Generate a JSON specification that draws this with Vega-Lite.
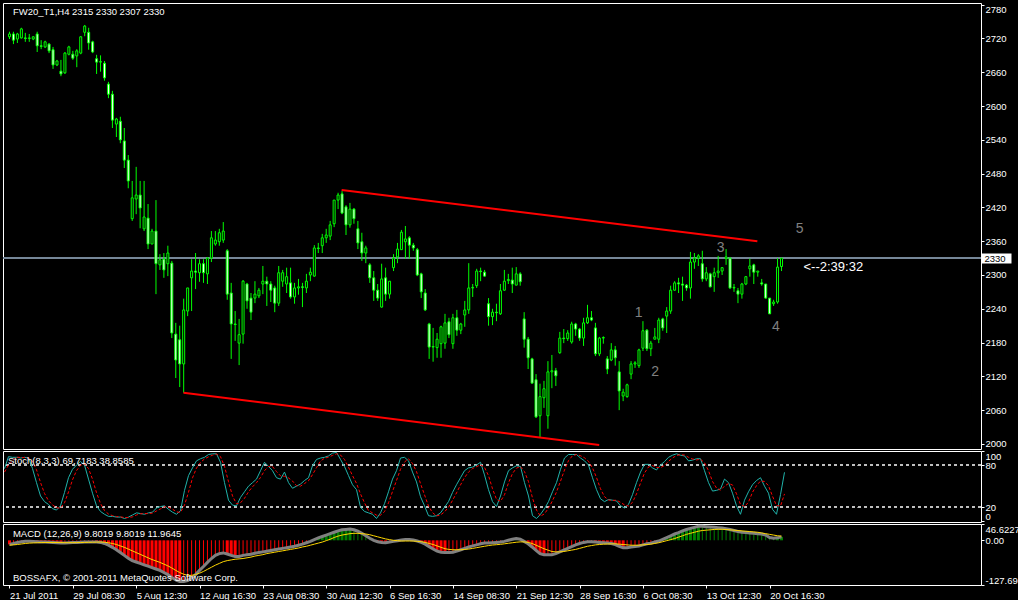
{
"$schema":"https://vega.github.io/schema/vega-lite/v6.json",
"background":"#000000",
"padding":{"left":2,"top":2,"right":0,"bottom":0},
"spacing":2,
"bounds":"flush",
"config":{"view":{"stroke":"#ffffff","strokeWidth":1,"fill":"#000000"},"font":"Liberation Sans","axis":{"labelFont":"Liberation Sans","labelFontSize":9.5,"labelColor":"#ffffff","tickColor":"#ffffff","domain":false,"grid":false,"labelOverlap":false,"labelFlush":false,"labelBound":false}},
"datasets":{
"bars":[
{"i":0,"o":2723,"h":2732,"l":2719,"c":2728,"k":75,"d":70,"m":-11.6,"s":-14},
{"i":1,"o":2728,"h":2732,"l":2710,"c":2717,"k":92,"d":80,"m":-9,"s":-13},
{"i":2,"o":2719,"h":2730,"l":2712,"c":2728,"k":91,"d":86,"m":-6,"s":-12},
{"i":3,"o":2721,"h":2739,"l":2720,"c":2737,"k":91,"d":91.3,"m":-4,"s":-10.5},
{"i":4,"o":2721,"h":2730,"l":2714,"c":2720,"k":90,"d":90.7,"m":-3,"s":-9},
{"i":5,"o":2720,"h":2728,"l":2714,"c":2721,"k":91,"d":90.7,"m":-3,"s":-8},
{"i":6,"o":2719,"h":2724,"l":2717,"c":2723,"k":90,"d":90.3,"m":-3.5,"s":-7.5},
{"i":7,"o":2728,"h":2732,"l":2696,"c":2707,"k":75,"d":85.3,"m":-4,"s":-7},
{"i":8,"o":2707,"h":2717,"l":2701,"c":2706,"k":55,"d":73.3,"m":-4.5,"s":-6.5},
{"i":9,"o":2705,"h":2716,"l":2703,"c":2714,"k":36,"d":55.3,"m":-5,"s":-6.3},
{"i":10,"o":2710,"h":2712,"l":2694,"c":2698,"k":28,"d":39.7,"m":-5.5,"s":-6.2},
{"i":11,"o":2700,"h":2705,"l":2666,"c":2673,"k":24,"d":29.3,"m":-6,"s":-6.2},
{"i":12,"o":2673,"h":2682,"l":2671,"c":2680,"k":18,"d":23.3,"m":-7,"s":-6.3},
{"i":13,"o":2662,"h":2682,"l":2653,"c":2657,"k":16,"d":19.3,"m":-8,"s":-6.5},
{"i":14,"o":2659,"h":2696,"l":2657,"c":2694,"k":22,"d":18.7,"m":-8,"s":-6.7},
{"i":15,"o":2692,"h":2707,"l":2690,"c":2705,"k":41,"d":26.3,"m":-7,"s":-6.8},
{"i":16,"o":2692,"h":2698,"l":2682,"c":2685,"k":62,"d":41.7,"m":-6.5,"s":-6.7},
{"i":17,"o":2689,"h":2701,"l":2669,"c":2698,"k":74,"d":59,"m":-6,"s":-6.5},
{"i":18,"o":2694,"h":2724,"l":2692,"c":2723,"k":80,"d":72,"m":-5.5,"s":-6.3},
{"i":19,"o":2731,"h":2744,"l":2724,"c":2742,"k":85,"d":79.7,"m":-5,"s":-6},
{"i":20,"o":2731,"h":2739,"l":2700,"c":2712,"k":80,"d":81.7,"m":-4.5,"s":-5.7},
{"i":21,"o":2714,"h":2716,"l":2694,"c":2696,"k":60,"d":75,"m":-4.5,"s":-5.4},
{"i":22,"o":2684,"h":2691,"l":2657,"c":2678,"k":40,"d":60,"m":-5,"s":-5.2},
{"i":23,"o":2678,"h":2690,"l":2661,"c":2679,"k":22,"d":40.7,"m":-6,"s":-5},
{"i":24,"o":2676,"h":2680,"l":2645,"c":2650,"k":14,"d":25.3,"m":-9,"s":-5.5},
{"i":25,"o":2639,"h":2643,"l":2614,"c":2621,"k":10,"d":15.3,"m":-14,"s":-7},
{"i":26,"o":2621,"h":2627,"l":2561,"c":2575,"k":7,"d":10.3,"m":-20,"s":-9},
{"i":27,"o":2568,"h":2579,"l":2545,"c":2577,"k":7,"d":8,"m":-27,"s":-12},
{"i":28,"o":2573,"h":2581,"l":2534,"c":2540,"k":6,"d":6.7,"m":-35,"s":-16},
{"i":29,"o":2538,"h":2561,"l":2490,"c":2504,"k":6,"d":6.3,"m":-43,"s":-20},
{"i":30,"o":2504,"h":2513,"l":2454,"c":2467,"k":4,"d":5.3,"m":-51,"s":-25},
{"i":31,"o":2400,"h":2467,"l":2396,"c":2437,"k":6,"d":5.3,"m":-58,"s":-30},
{"i":32,"o":2435,"h":2492,"l":2408,"c":2442,"k":9,"d":6.3,"m":-62,"s":-35},
{"i":33,"o":2442,"h":2467,"l":2383,"c":2419,"k":12,"d":9,"m":-66,"s":-40},
{"i":34,"o":2382,"h":2467,"l":2378,"c":2403,"k":11,"d":10.7,"m":-70,"s":-45},
{"i":35,"o":2401,"h":2426,"l":2346,"c":2355,"k":10,"d":11,"m":-74,"s":-50},
{"i":36,"o":2355,"h":2382,"l":2355,"c":2378,"k":12,"d":11,"m":-78,"s":-55},
{"i":37,"o":2378,"h":2433,"l":2266,"c":2320,"k":13,"d":11.7,"m":-82,"s":-59},
{"i":38,"o":2318,"h":2337,"l":2309,"c":2327,"k":19,"d":14.7,"m":-86,"s":-63},
{"i":39,"o":2328,"h":2339,"l":2295,"c":2309,"k":21,"d":17.7,"m":-92,"s":-68},
{"i":40,"o":2320,"h":2352,"l":2298,"c":2339,"k":22,"d":20.7,"m":-98,"s":-73},
{"i":41,"o":2321,"h":2325,"l":2188,"c":2197,"k":17,"d":20,"m":-106,"s":-79},
{"i":42,"o":2195,"h":2215,"l":2117,"c":2149,"k":13,"d":17.3,"m":-113,"s":-86},
{"i":43,"o":2185,"h":2210,"l":2101,"c":2142,"k":10,"d":13.3,"m":-118,"s":-92},
{"i":44,"o":2142,"h":2258,"l":2091,"c":2238,"k":15,"d":12.7,"m":-118,"s":-97},
{"i":45,"o":2236,"h":2277,"l":2227,"c":2277,"k":44,"d":23,"m":-115,"s":-100},
{"i":46,"o":2295,"h":2328,"l":2236,"c":2307,"k":65,"d":41.3,"m":-108,"s":-100},
{"i":47,"o":2307,"h":2339,"l":2275,"c":2305,"k":76,"d":61.7,"m":-98,"s":-98},
{"i":48,"o":2304,"h":2328,"l":2288,"c":2320,"k":86,"d":75.7,"m":-86,"s":-94},
{"i":49,"o":2320,"h":2328,"l":2286,"c":2304,"k":89,"d":83.7,"m":-75,"s":-89},
{"i":50,"o":2302,"h":2332,"l":2284,"c":2330,"k":91,"d":88.7,"m":-63,"s":-83},
{"i":51,"o":2330,"h":2378,"l":2323,"c":2366,"k":95,"d":91.7,"m":-52,"s":-77},
{"i":52,"o":2355,"h":2378,"l":2352,"c":2362,"k":96,"d":94,"m":-43,"s":-71},
{"i":53,"o":2359,"h":2382,"l":2352,"c":2375,"k":96,"d":95.7,"m":-38,"s":-66},
{"i":54,"o":2362,"h":2394,"l":2357,"c":2378,"k":84,"d":92,"m":-36,"s":-61},
{"i":55,"o":2343,"h":2346,"l":2256,"c":2266,"k":55,"d":78.3,"m":-39,"s":-58},
{"i":56,"o":2268,"h":2286,"l":2151,"c":2213,"k":30,"d":56.3,"m":-43,"s":-56},
{"i":57,"o":2213,"h":2236,"l":2183,"c":2212,"k":23,"d":36,"m":-46,"s":-54},
{"i":58,"o":2179,"h":2222,"l":2140,"c":2194,"k":22,"d":25,"m":-46,"s":-53},
{"i":59,"o":2195,"h":2291,"l":2178,"c":2289,"k":34,"d":26.3,"m":-43,"s":-52},
{"i":60,"o":2284,"h":2286,"l":2240,"c":2254,"k":42,"d":32.7,"m":-41,"s":-50},
{"i":61,"o":2259,"h":2268,"l":2220,"c":2234,"k":50,"d":42,"m":-40,"s":-48},
{"i":62,"o":2259,"h":2289,"l":2250,"c":2266,"k":55,"d":49,"m":-37,"s":-45},
{"i":63,"o":2263,"h":2277,"l":2259,"c":2273,"k":60,"d":55,"m":-35,"s":-43},
{"i":64,"o":2284,"h":2316,"l":2266,"c":2289,"k":72,"d":62.3,"m":-33,"s":-41},
{"i":65,"o":2289,"h":2297,"l":2245,"c":2284,"k":84,"d":72,"m":-31,"s":-38},
{"i":66,"o":2284,"h":2289,"l":2252,"c":2273,"k":78,"d":78,"m":-29,"s":-36},
{"i":67,"o":2277,"h":2281,"l":2234,"c":2250,"k":72,"d":78,"m":-27,"s":-34},
{"i":68,"o":2250,"h":2316,"l":2245,"c":2304,"k":62,"d":70.7,"m":-25,"s":-32},
{"i":69,"o":2289,"h":2309,"l":2279,"c":2304,"k":60,"d":64.7,"m":-23,"s":-30},
{"i":70,"o":2284,"h":2313,"l":2268,"c":2297,"k":70,"d":64,"m":-21,"s":-28},
{"i":71,"o":2286,"h":2313,"l":2258,"c":2261,"k":55,"d":61.7,"m":-19,"s":-26},
{"i":72,"o":2261,"h":2286,"l":2249,"c":2277,"k":47,"d":57.3,"m":-17,"s":-24},
{"i":73,"o":2277,"h":2293,"l":2265,"c":2279,"k":50,"d":50.7,"m":-14,"s":-22},
{"i":74,"o":2279,"h":2286,"l":2243,"c":2278,"k":53,"d":50,"m":-11,"s":-19},
{"i":75,"o":2277,"h":2302,"l":2268,"c":2289,"k":58,"d":53.7,"m":-7,"s":-17},
{"i":76,"o":2300,"h":2313,"l":2289,"c":2305,"k":62,"d":57.7,"m":-3,"s":-14},
{"i":77,"o":2298,"h":2353,"l":2297,"c":2348,"k":79,"d":66.3,"m":2,"s":-11},
{"i":78,"o":2348,"h":2357,"l":2339,"c":2347,"k":88,"d":76.3,"m":7,"s":-8},
{"i":79,"o":2352,"h":2373,"l":2339,"c":2366,"k":90,"d":85.7,"m":11,"s":-5},
{"i":80,"o":2366,"h":2382,"l":2357,"c":2371,"k":91,"d":89.7,"m":15,"s":-1},
{"i":81,"o":2369,"h":2396,"l":2362,"c":2389,"k":93,"d":91.3,"m":19,"s":3},
{"i":82,"o":2391,"h":2433,"l":2385,"c":2433,"k":97,"d":93.7,"m":23,"s":8},
{"i":83,"o":2433,"h":2446,"l":2417,"c":2442,"k":98,"d":96,"m":27,"s":12},
{"i":84,"o":2444,"h":2449,"l":2408,"c":2410,"k":88,"d":94.3,"m":30,"s":15},
{"i":85,"o":2421,"h":2424,"l":2371,"c":2389,"k":78,"d":88,"m":31,"s":17},
{"i":86,"o":2389,"h":2428,"l":2384,"c":2417,"k":65,"d":77,"m":32,"s":19},
{"i":87,"o":2417,"h":2419,"l":2391,"c":2400,"k":52,"d":65,"m":30,"s":20},
{"i":88,"o":2382,"h":2396,"l":2346,"c":2357,"k":45,"d":54,"m":26,"s":20},
{"i":89,"o":2359,"h":2375,"l":2325,"c":2339,"k":20,"d":39,"m":20,"s":19},
{"i":90,"o":2339,"h":2352,"l":2321,"c":2348,"k":14,"d":26.3,"m":13,"s":18},
{"i":91,"o":2318,"h":2321,"l":2286,"c":2295,"k":12,"d":15.3,"m":6,"s":16},
{"i":92,"o":2295,"h":2307,"l":2254,"c":2273,"k":10,"d":12,"m":0,"s":13},
{"i":93,"o":2273,"h":2284,"l":2254,"c":2259,"k":4,"d":8.7,"m":-4,"s":10},
{"i":94,"o":2243,"h":2320,"l":2242,"c":2293,"k":12,"d":8.7,"m":-6,"s":7},
{"i":95,"o":2295,"h":2313,"l":2254,"c":2266,"k":25,"d":13.7,"m":-7,"s":4},
{"i":96,"o":2266,"h":2289,"l":2258,"c":2289,"k":42,"d":26.3,"m":-5,"s":2},
{"i":97,"o":2313,"h":2337,"l":2307,"c":2330,"k":60,"d":42.3,"m":-3,"s":0},
{"i":98,"o":2332,"h":2357,"l":2321,"c":2346,"k":72,"d":58,"m":-1,"s":-1},
{"i":99,"o":2345,"h":2380,"l":2345,"c":2376,"k":90,"d":74,"m":1,"s":-2},
{"i":100,"o":2359,"h":2387,"l":2329,"c":2364,"k":91,"d":84.3,"m":2,"s":-2},
{"i":101,"o":2366,"h":2369,"l":2329,"c":2353,"k":86,"d":89,"m":2,"s":-2},
{"i":102,"o":2353,"h":2357,"l":2343,"c":2348,"k":70,"d":82.3,"m":1,"s":-2},
{"i":103,"o":2345,"h":2348,"l":2298,"c":2300,"k":56,"d":70.7,"m":-2,"s":-3},
{"i":104,"o":2302,"h":2304,"l":2259,"c":2270,"k":35,"d":53.7,"m":-6,"s":-4},
{"i":105,"o":2268,"h":2275,"l":2236,"c":2238,"k":22,"d":37.7,"m":-11,"s":-6},
{"i":106,"o":2213,"h":2215,"l":2151,"c":2172,"k":8,"d":21.7,"m":-18,"s":-9},
{"i":107,"o":2172,"h":2206,"l":2146,"c":2173,"k":7,"d":12.3,"m":-25,"s":-12},
{"i":108,"o":2171,"h":2197,"l":2153,"c":2186,"k":8,"d":7.7,"m":-31,"s":-16},
{"i":109,"o":2178,"h":2210,"l":2153,"c":2208,"k":12,"d":9,"m":-34,"s":-20},
{"i":110,"o":2179,"h":2231,"l":2169,"c":2215,"k":20,"d":13.3,"m":-35,"s":-24},
{"i":111,"o":2217,"h":2224,"l":2188,"c":2194,"k":28,"d":20,"m":-35,"s":-26},
{"i":112,"o":2178,"h":2231,"l":2169,"c":2224,"k":41,"d":29.7,"m":-34,"s":-27},
{"i":113,"o":2224,"h":2238,"l":2192,"c":2202,"k":52,"d":40.3,"m":-31,"s":-27},
{"i":114,"o":2202,"h":2215,"l":2195,"c":2213,"k":62,"d":51.7,"m":-27,"s":-27},
{"i":115,"o":2229,"h":2254,"l":2208,"c":2238,"k":72,"d":62,"m":-23,"s":-26},
{"i":116,"o":2238,"h":2321,"l":2231,"c":2277,"k":76,"d":70,"m":-19,"s":-25},
{"i":117,"o":2277,"h":2284,"l":2261,"c":2278,"k":77,"d":75,"m":-16,"s":-23},
{"i":118,"o":2281,"h":2311,"l":2277,"c":2307,"k":80,"d":77.7,"m":-13,"s":-21},
{"i":119,"o":2307,"h":2313,"l":2289,"c":2306,"k":84,"d":80.3,"m":-10,"s":-19},
{"i":120,"o":2305,"h":2309,"l":2297,"c":2298,"k":66,"d":76.7,"m":-8,"s":-17},
{"i":121,"o":2249,"h":2259,"l":2210,"c":2226,"k":45,"d":65,"m":-8,"s":-15},
{"i":122,"o":2226,"h":2240,"l":2211,"c":2234,"k":28,"d":46.3,"m":-7,"s":-13.5},
{"i":123,"o":2234,"h":2249,"l":2218,"c":2233,"k":21,"d":31.3,"m":-6,"s":-12.5},
{"i":124,"o":2231,"h":2284,"l":2229,"c":2272,"k":36,"d":28.3,"m":-5,"s":-11.5},
{"i":125,"o":2273,"h":2309,"l":2272,"c":2289,"k":56,"d":37.7,"m":-3,"s":-10},
{"i":126,"o":2290,"h":2302,"l":2284,"c":2292,"k":72,"d":54.7,"m":0,"s":-8.5},
{"i":127,"o":2291,"h":2313,"l":2268,"c":2284,"k":76,"d":68,"m":3,"s":-7},
{"i":128,"o":2282,"h":2314,"l":2282,"c":2302,"k":79,"d":75.7,"m":5,"s":-5.5},
{"i":129,"o":2302,"h":2305,"l":2281,"c":2288,"k":78,"d":77.7,"m":3,"s":-4.5},
{"i":130,"o":2222,"h":2234,"l":2171,"c":2186,"k":55,"d":70.7,"m":-3,"s":-4.5},
{"i":131,"o":2186,"h":2190,"l":2133,"c":2153,"k":36,"d":56.3,"m":-10,"s":-6},
{"i":132,"o":2151,"h":2153,"l":2107,"c":2108,"k":8,"d":33,"m":-19,"s":-9},
{"i":133,"o":2114,"h":2124,"l":2046,"c":2048,"k":4,"d":16,"m":-29,"s":-14},
{"i":134,"o":2050,"h":2107,"l":2011,"c":2084,"k":10,"d":7.3,"m":-38,"s":-19},
{"i":135,"o":2082,"h":2112,"l":2064,"c":2098,"k":18,"d":10.7,"m":-41,"s":-24},
{"i":136,"o":2050,"h":2147,"l":2027,"c":2128,"k":28,"d":18.7,"m":-41,"s":-28},
{"i":137,"o":2128,"h":2158,"l":2099,"c":2130,"k":42,"d":29.3,"m":-41,"s":-32},
{"i":138,"o":2130,"h":2135,"l":2103,"c":2121,"k":55,"d":41.7,"m":-38,"s":-33},
{"i":139,"o":2162,"h":2199,"l":2160,"c":2188,"k":74,"d":57,"m":-33,"s":-33},
{"i":140,"o":2188,"h":2204,"l":2179,"c":2187,"k":90,"d":73,"m":-28,"s":-32},
{"i":141,"o":2187,"h":2202,"l":2183,"c":2197,"k":95,"d":86.3,"m":-23,"s":-30},
{"i":142,"o":2181,"h":2217,"l":2178,"c":2213,"k":95,"d":93.3,"m":-18,"s":-28},
{"i":143,"o":2213,"h":2215,"l":2192,"c":2204,"k":95,"d":95,"m":-13,"s":-26},
{"i":144,"o":2204,"h":2206,"l":2183,"c":2188,"k":90,"d":93.3,"m":-9,"s":-23},
{"i":145,"o":2188,"h":2224,"l":2174,"c":2215,"k":86,"d":90.3,"m":-6,"s":-20},
{"i":146,"o":2215,"h":2247,"l":2213,"c":2224,"k":80,"d":85.3,"m":-4,"s":-17},
{"i":147,"o":2224,"h":2236,"l":2218,"c":2220,"k":62,"d":76,"m":-4,"s":-15},
{"i":148,"o":2206,"h":2215,"l":2156,"c":2160,"k":45,"d":62.3,"m":-5,"s":-13},
{"i":149,"o":2160,"h":2190,"l":2156,"c":2188,"k":32,"d":46.3,"m":-6,"s":-12},
{"i":150,"o":2188,"h":2191,"l":2178,"c":2189,"k":28,"d":35,"m":-7,"s":-11},
{"i":151,"o":2151,"h":2156,"l":2124,"c":2133,"k":31,"d":30.3,"m":-8,"s":-10.5},
{"i":152,"o":2149,"h":2179,"l":2147,"c":2167,"k":30,"d":29.7,"m":-9,"s":-10},
{"i":153,"o":2167,"h":2174,"l":2139,"c":2153,"k":29,"d":30,"m":-12,"s":-10},
{"i":154,"o":2128,"h":2147,"l":2060,"c":2094,"k":22,"d":27,"m":-17,"s":-11},
{"i":155,"o":2085,"h":2098,"l":2076,"c":2092,"k":19,"d":23.3,"m":-21,"s":-12},
{"i":156,"o":2084,"h":2107,"l":2082,"c":2105,"k":24,"d":21.7,"m":-21,"s":-13},
{"i":157,"o":2124,"h":2147,"l":2115,"c":2142,"k":38,"d":27,"m":-19,"s":-14},
{"i":158,"o":2142,"h":2147,"l":2135,"c":2144,"k":55,"d":39,"m":-18,"s":-14},
{"i":159,"o":2139,"h":2169,"l":2135,"c":2167,"k":70,"d":54.3,"m":-16,"s":-14},
{"i":160,"o":2170,"h":2218,"l":2165,"c":2201,"k":81,"d":68.7,"m":-13,"s":-13},
{"i":161,"o":2202,"h":2204,"l":2165,"c":2169,"k":81,"d":77.3,"m":-10,"s":-12},
{"i":162,"o":2169,"h":2183,"l":2156,"c":2179,"k":76,"d":79.3,"m":-8,"s":-11},
{"i":163,"o":2186,"h":2206,"l":2186,"c":2190,"k":73,"d":76.7,"m":-5,"s":-9},
{"i":164,"o":2186,"h":2224,"l":2179,"c":2220,"k":80,"d":76.3,"m":-2,"s":-7},
{"i":165,"o":2222,"h":2224,"l":2201,"c":2206,"k":85,"d":79.3,"m":3,"s":-4},
{"i":166,"o":2227,"h":2243,"l":2197,"c":2236,"k":91,"d":85.3,"m":8,"s":-1},
{"i":167,"o":2236,"h":2281,"l":2231,"c":2273,"k":94,"d":90,"m":13,"s":2},
{"i":168,"o":2273,"h":2289,"l":2272,"c":2286,"k":96,"d":93.7,"m":18,"s":5},
{"i":169,"o":2286,"h":2295,"l":2268,"c":2284,"k":94,"d":94.7,"m":22,"s":9},
{"i":170,"o":2284,"h":2297,"l":2254,"c":2282,"k":93,"d":94.3,"m":27,"s":13},
{"i":171,"o":2282,"h":2284,"l":2272,"c":2277,"k":86,"d":91,"m":31,"s":17},
{"i":172,"o":2277,"h":2341,"l":2258,"c":2323,"k":87,"d":88.7,"m":34,"s":20},
{"i":173,"o":2323,"h":2339,"l":2311,"c":2330,"k":89,"d":87.3,"m":37,"s":23},
{"i":174,"o":2330,"h":2337,"l":2316,"c":2334,"k":89,"d":88.3,"m":40,"s":26},
{"i":175,"o":2320,"h":2343,"l":2288,"c":2293,"k":72,"d":83.3,"m":40,"s":28},
{"i":176,"o":2293,"h":2314,"l":2289,"c":2304,"k":55,"d":72,"m":39,"s":29},
{"i":177,"o":2302,"h":2304,"l":2278,"c":2279,"k":43,"d":56.7,"m":38,"s":30},
{"i":178,"o":2297,"h":2313,"l":2270,"c":2304,"k":44,"d":47.3,"m":37,"s":31},
{"i":179,"o":2304,"h":2334,"l":2295,"c":2307,"k":46,"d":44.3,"m":36,"s":31.5},
{"i":180,"o":2307,"h":2314,"l":2300,"c":2313,"k":60,"d":50,"m":35,"s":31.5},
{"i":181,"o":2329,"h":2346,"l":2318,"c":2332,"k":55,"d":53.7,"m":33,"s":31},
{"i":182,"o":2330,"h":2332,"l":2275,"c":2277,"k":40,"d":51.7,"m":31,"s":30},
{"i":183,"o":2277,"h":2284,"l":2270,"c":2278,"k":22,"d":39,"m":28,"s":29},
{"i":184,"o":2272,"h":2277,"l":2250,"c":2266,"k":10,"d":24,"m":25,"s":28},
{"i":185,"o":2266,"h":2286,"l":2258,"c":2284,"k":30,"d":20.7,"m":23,"s":27},
{"i":186,"o":2284,"h":2298,"l":2282,"c":2297,"k":42,"d":27.3,"m":22,"s":26},
{"i":187,"o":2311,"h":2329,"l":2297,"c":2316,"k":52,"d":41.3,"m":21,"s":25},
{"i":188,"o":2318,"h":2320,"l":2284,"c":2305,"k":58,"d":50.7,"m":20,"s":24},
{"i":189,"o":2305,"h":2307,"l":2297,"c":2307,"k":62,"d":57.3,"m":19,"s":23},
{"i":190,"o":2286,"h":2293,"l":2281,"c":2284,"k":50,"d":56.7,"m":18,"s":21},
{"i":191,"o":2284,"h":2284,"l":2258,"c":2259,"k":40,"d":50.7,"m":15,"s":19},
{"i":192,"o":2259,"h":2259,"l":2231,"c":2231,"k":17,"d":35.7,"m":8,"s":17},
{"i":193,"o":2249,"h":2256,"l":2245,"c":2252,"k":10,"d":22.3,"m":6,"s":15},
{"i":194,"o":2252,"h":2330,"l":2249,"c":2314,"k":38,"d":21.7,"m":7,"s":13},
{"i":195,"o":2315,"h":2330,"l":2307,"c":2330,"k":69.7,"d":38.9,"m":9.8,"s":12}
],
"trend":[
{"g":"upper","i":83.9,"p":2451},
{"g":"upper","i":188.9,"p":2360},
{"g":"lower","i":43.95,"p":2091},
{"g":"lower","i":148.95,"p":1998}
],
"notes":[
{"kind":"title","i":0.875,"p":2767,"t":"FW20_T1,H4  2315 2330 2307 2330"},
{"kind":"wave","i":158.9,"p":2232,"t":"1"},
{"kind":"wave","i":163.1,"p":2128,"t":"2"},
{"kind":"wave","i":179.6,"p":2348,"t":"3"},
{"kind":"wave","i":193.6,"p":2208,"t":"4"},
{"kind":"wave","i":199.6,"p":2382,"t":"5"},
{"kind":"timer","i":200.55,"p":2315,"t":"<--2:39:32"},
{"kind":"stoch","i":0.875,"p":85.8,"t":"Stoch(8,3,3) 69.7183 38.8585"},
{"kind":"macd","i":0.875,"p":17.2,"t":"MACD (12,26,9) 9.8019 9.8019 11.9645"},
{"kind":"copy","i":0.875,"p":-108.5,"t":"BOSSAFX, © 2001-2011 MetaQuotes Software Corp."}
]
},
"vconcat":[
{
"width":978,"height":446,
"data":{"name":"bars"},
"resolve":{"axis":{"y":"independent"}},
"layer":[
{"mark":{"type":"rule","color":"#778899","strokeWidth":1},
 "encoding":{"y":{"datum":2330,"type":"quantitative","scale":{"domain":[1991,2783],"nice":false,"zero":false},
  "axis":{"orient":"right","values":[2330],"format":"d","title":null,"labelOverlap":false,"tickColor":"#ffffff","tickWidth":10,"tickSize":30,"labelPadding":-27,"labelAlign":"left","labelColor":"#000000","labelBaseline":"middle"}}}},
{"mark":{"type":"rule","color":"#00ff00","strokeWidth":1},
 "encoding":{"x":{"field":"i","type":"quantitative","scale":{"domain":[-0.375,244.125],"nice":false,"zero":false},"axis":null},
  "y":{"field":"l","type":"quantitative","axis":{"orient":"right","title":null,"format":"d","labelOverlap":false,"values":[2000,2060,2120,2180,2240,2300,2360,2420,2480,2540,2600,2660,2720,2780],"tickSize":3,"labelPadding":1,"labelBaseline":{"condition":{"test":"datum.value == 2780","value":"top"},"value":"middle"}}},
  "y2":{"field":"h"}}},
{"mark":{"type":"bar","size":2,"stroke":"#00ff00","strokeWidth":1},
 "encoding":{"x":{"field":"i","type":"quantitative","axis":null},
  "y":{"field":"o","type":"quantitative","axis":null},"y2":{"field":"c"},
  "fill":{"condition":{"test":"datum.c < datum.o","value":"#ffffff"},"value":"#000000"}}},
{"data":{"name":"trend"},"mark":{"type":"line","color":"#ff0000","strokeWidth":2},
 "encoding":{"x":{"field":"i","type":"quantitative","axis":null},"y":{"field":"p","type":"quantitative","axis":null},"detail":{"field":"g"}}},
{"data":{"name":"notes"},"transform":[{"filter":"datum.kind == 'wave'"}],
 "mark":{"type":"text","color":"#808080","fontSize":14,"font":"Liberation Sans","align":"center","baseline":"middle"},
 "encoding":{"x":{"field":"i","type":"quantitative","axis":null},"y":{"field":"p","type":"quantitative","axis":null},"text":{"field":"t"}}},
{"data":{"name":"notes"},"transform":[{"filter":"datum.kind == 'timer'"}],
 "mark":{"type":"text","color":"#ffffff","fontSize":13,"font":"Liberation Sans","align":"left","baseline":"middle"},
 "encoding":{"x":{"field":"i","type":"quantitative","axis":null},"y":{"field":"p","type":"quantitative","axis":null},"text":{"field":"t"}}},
{"data":{"name":"notes"},"transform":[{"filter":"datum.kind == 'title'"}],
 "mark":{"type":"text","color":"#ffffff","fontSize":9.5,"font":"Liberation Sans","align":"left","baseline":"middle"},
 "encoding":{"x":{"field":"i","type":"quantitative","axis":null},"y":{"field":"p","type":"quantitative","axis":null},"text":{"field":"t"}}}
]
},
{
"width":978,"height":71,
"data":{"name":"bars"},
"resolve":{"axis":{"y":"independent"}},
"layer":[
{"mark":{"type":"rule","color":"#c0c0c0","strokeDash":[3,3],"strokeWidth":1},
 "encoding":{"y":{"datum":80,"type":"quantitative","scale":{"domain":[-1,100],"nice":false,"zero":false},
  "axis":{"orient":"right","title":null,"values":[20,80],"format":"d","labelOverlap":false,"tickSize":3,"labelPadding":1,"labelBaseline":"middle"}}}},
{"mark":{"type":"rule","color":"#c0c0c0","strokeDash":[3,3],"strokeWidth":1},
 "encoding":{"y":{"datum":20,"type":"quantitative",
  "axis":{"orient":"right","title":null,"values":[100],"format":"d","labelOverlap":false,"tickSize":3,"labelPadding":1,"labelBaseline":"top"}}}},
{"mark":{"type":"line","color":"#20b2aa","strokeWidth":1},
 "encoding":{"x":{"field":"i","type":"quantitative","scale":{"domain":[-0.375,244.125],"nice":false,"zero":false},"axis":null},
  "y":{"field":"k","type":"quantitative",
  "axis":{"orient":"right","title":null,"values":[0],"format":"d","labelOverlap":false,"tickSize":3,"labelPadding":1,"labelBaseline":"bottom"}}}},
{"mark":{"type":"line","color":"#ff0000","strokeWidth":1,"strokeDash":[3,2]},
 "encoding":{"x":{"field":"i","type":"quantitative","axis":null},"y":{"field":"d","type":"quantitative","axis":null}}},
{"data":{"name":"notes"},"transform":[{"filter":"datum.kind == 'stoch'"}],
 "mark":{"type":"text","color":"#ffffff","fontSize":9.5,"font":"Liberation Sans","align":"left","baseline":"middle"},
 "encoding":{"x":{"field":"i","type":"quantitative","axis":null},"y":{"field":"p","type":"quantitative","axis":null},"text":{"field":"t"}}}
]
},
{
"width":978,"height":61,
"data":{"name":"bars"},
"resolve":{"axis":{"y":"independent"}},
"layer":[
{"transform":[{"window":[{"op":"lag","field":"m","as":"pm"}],"sort":[{"field":"i","order":"ascending"}]}],
 "mark":{"type":"bar"},
 "encoding":{"x":{"field":"i","type":"quantitative","scale":{"domain":[-0.375,244.125],"nice":false,"zero":false},
   "axis":{"title":null,"values":[0,16,32,48,64,80,96,112,128,144,160,176,192],"labelOverlap":false,"labelExpr":"datum.value == 0 ? '21 Jul 2011' : datum.value == 16 ? '29 Jul 08:30' : datum.value == 32 ? '5 Aug 12:30' : datum.value == 48 ? '12 Aug 16:30' : datum.value == 64 ? '23 Aug 08:30' : datum.value == 80 ? '30 Aug 12:30' : datum.value == 96 ? '6 Sep 16:30' : datum.value == 112 ? '14 Sep 08:30' : datum.value == 128 ? '21 Sep 12:30' : datum.value == 144 ? '28 Sep 16:30' : datum.value == 160 ? '6 Oct 08:30' : datum.value == 176 ? '13 Oct 12:30' : '20 Oct 16:30'","labelAlign":"left","labelBaseline":"top","tickSize":3,"labelPadding":2}},
  "y":{"field":"m","type":"quantitative","scale":{"domain":[-127.696,46.6227],"nice":false,"zero":false},
   "axis":{"orient":"right","title":null,"values":[0],"labelExpr":"'0.00'","labelOverlap":false,"tickSize":3,"labelPadding":1,"labelBaseline":"middle"}},
  "y2":{"datum":0},
  "size":{"condition":{"test":"datum.pm == null || abs(datum.m) > abs(datum.pm)","value":3},"value":1},
  "color":{"condition":{"test":"datum.m < 0","value":"#ff0000"},"value":"#008000"}}},
{"mark":{"type":"line","color":"#808080","strokeWidth":3},
 "encoding":{"x":{"field":"i","type":"quantitative"},
  "y":{"field":"m","type":"quantitative",
   "axis":{"orient":"right","title":null,"values":[46.6227],"labelExpr":"'46.6227'","labelOverlap":false,"tickSize":3,"labelPadding":1,"labelBaseline":"top"}}}},
{"mark":{"type":"line","color":"#ffd700","strokeWidth":1},
 "encoding":{"x":{"field":"i","type":"quantitative"},
  "y":{"field":"s","type":"quantitative",
   "axis":{"orient":"right","title":null,"values":[-127.696],"labelExpr":"'-127.696'","labelOverlap":false,"tickSize":3,"labelPadding":1,"labelBaseline":"bottom"}}}},
{"data":{"name":"notes"},"transform":[{"filter":"datum.kind == 'macd' || datum.kind == 'copy'"}],
 "mark":{"type":"text","color":"#ffffff","fontSize":9.5,"font":"Liberation Sans","align":"left","baseline":"middle"},
 "encoding":{"x":{"field":"i","type":"quantitative"},"y":{"field":"p","type":"quantitative","axis":null},"text":{"field":"t"}}}
]
}
]
}
